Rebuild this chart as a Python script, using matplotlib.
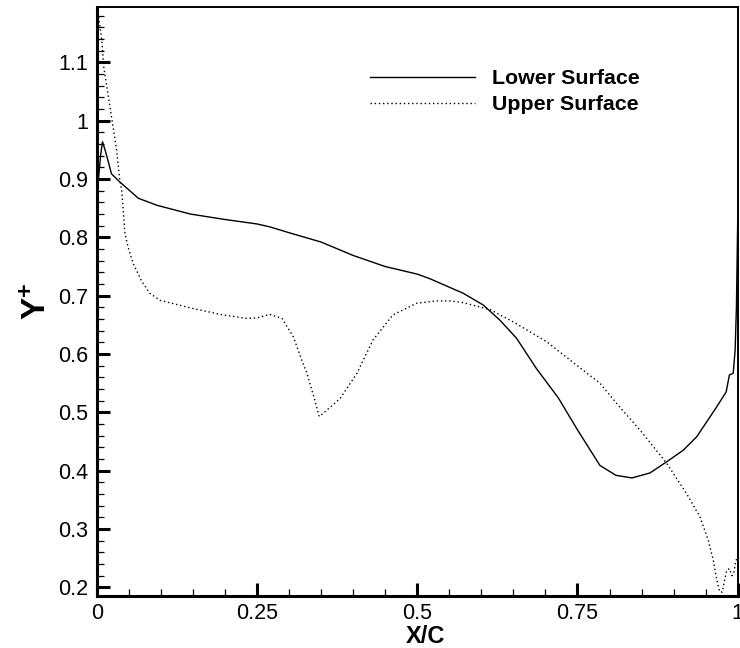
import matplotlib
matplotlib.use("Agg")
import matplotlib.pyplot as plt
from matplotlib.ticker import MultipleLocator, FuncFormatter

plt.rcParams["font.family"] = ["Liberation Sans", "DejaVu Sans"]
plt.rcParams["mathtext.fontset"] = "custom"
plt.rcParams["mathtext.rm"] = "Liberation Sans"
plt.rcParams["mathtext.bf"] = "Liberation Sans:bold"

# Y+ along the chord
lower_x = [0.002, 0.006, 0.009, 0.013, 0.018, 0.023, 0.036, 0.065, 0.094, 0.146,
           0.198, 0.25, 0.27, 0.3, 0.35, 0.4, 0.45, 0.5, 0.52, 0.572,
           0.603, 0.629, 0.655, 0.686, 0.72, 0.75, 0.785, 0.81, 0.835, 0.863,
           0.889, 0.915, 0.936, 0.967, 0.982, 0.987, 0.993, 0.996, 0.998, 1.0]
lower_y = [0.89, 0.94, 0.964, 0.95, 0.93, 0.909, 0.895, 0.867, 0.855, 0.84,
           0.831, 0.823, 0.818, 0.808, 0.792, 0.769, 0.75, 0.737, 0.729, 0.704,
           0.684, 0.658, 0.627, 0.575, 0.525, 0.47, 0.409, 0.392, 0.3875, 0.396,
           0.415, 0.435, 0.458, 0.509, 0.535, 0.564, 0.567, 0.607, 0.68, 0.83]

upper_x = [0.002, 0.008, 0.011, 0.024, 0.031, 0.036, 0.039, 0.044, 0.049, 0.057,
           0.07, 0.083, 0.099, 0.146, 0.197, 0.234, 0.25, 0.27, 0.289, 0.307,
           0.32, 0.328, 0.341, 0.347, 0.352, 0.38, 0.406, 0.431, 0.462, 0.499,
           0.53, 0.551, 0.572, 0.614, 0.65, 0.702, 0.759, 0.785, 0.816, 0.848,
           0.889, 0.92, 0.941, 0.954, 0.962, 0.967, 0.972, 0.976, 0.98, 0.983,
           0.987, 0.991, 0.994, 0.997, 1.0]
upper_y = [1.185, 1.138, 1.092, 1.0, 0.95, 0.898, 0.881, 0.807, 0.783, 0.755,
           0.725, 0.704, 0.692, 0.679, 0.667, 0.661, 0.662, 0.668, 0.661, 0.629,
           0.589, 0.567, 0.518, 0.493, 0.497, 0.524, 0.567, 0.624, 0.667, 0.687,
           0.691, 0.691, 0.688, 0.676, 0.655, 0.621, 0.572, 0.55, 0.509, 0.469,
           0.413, 0.361, 0.321, 0.281, 0.246, 0.215, 0.192, 0.192, 0.215, 0.229,
           0.232, 0.22, 0.226, 0.246, 0.25]

series_labels = ["Lower Surface", "Upper Surface"]

fig = plt.figure(figsize=(7.4, 6.48), dpi=100)
ax = fig.add_axes([0.1307, 0.0802, 0.8662, 0.909])

line_lo, = ax.plot(lower_x, lower_y, color="black", lw=1.0, ls="-")
line_up, = ax.plot(upper_x, upper_y, color="black", lw=1.0, ls=(0, (1, 2)))

ax.set_xlim(0, 1)
ax.set_ylim(0.185, 1.195)

ax.xaxis.set_major_locator(MultipleLocator(0.25))
ax.xaxis.set_minor_locator(MultipleLocator(0.05))
ax.yaxis.set_major_locator(MultipleLocator(0.1))
ax.yaxis.set_minor_locator(MultipleLocator(0.02))
ax.xaxis.set_major_formatter(FuncFormatter(lambda v, p: f"{v:g}"))
ax.yaxis.set_major_formatter(FuncFormatter(lambda v, p: f"{round(v, 2):g}"))

ax.tick_params(which="both", direction="in", top=False, right=False, labelsize=15.5)
ax.tick_params(which="major", length=9.5, width=2.2)
ax.tick_params(which="minor", length=5, width=0.9)
ax.tick_params(axis="x", which="major", pad=5)
ax.tick_params(axis="y", which="major", pad=6)

ax.spines["left"].set_linewidth(2.2)
ax.spines["bottom"].set_linewidth(2.2)
ax.spines["top"].set_linewidth(1.4)
ax.spines["right"].set_linewidth(1.4)

ax.set_xlabel("X/C", fontsize=17, fontweight="bold")
ax.set_ylabel(r"$\mathbf{Y^{+}}$", fontsize=24, labelpad=4)
ax.xaxis.set_label_coords(0.513, -0.05)

ax.legend([line_lo, line_up], series_labels, loc="upper left",
          bbox_to_anchor=(0.5, 0.8935), bbox_transform=fig.transFigure,
          frameon=False, borderpad=0, borderaxespad=0,
          handlelength=4.9, handletextpad=0.8, labelspacing=0.34,
          prop={"weight": "bold", "size": 15.4})

fig.savefig("out.png", dpi=100)
